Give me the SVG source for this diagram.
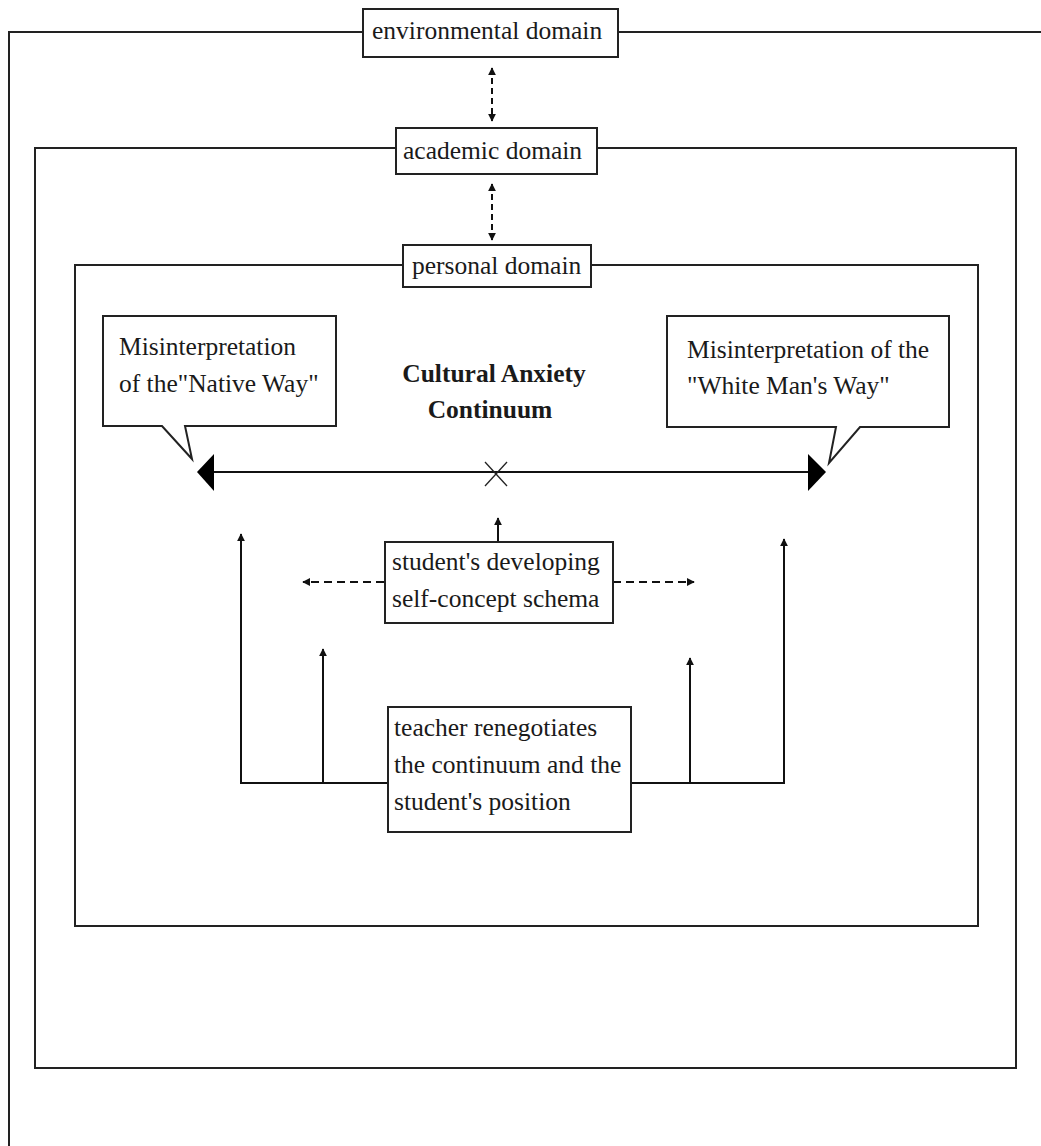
<svg xmlns="http://www.w3.org/2000/svg" width="1041" height="1146" viewBox="0 0 1041 1146">
<defs>
<style>
.t{font-family:"Liberation Serif","Times New Roman",serif;font-size:25.5px;fill:#1a1a1a}
.b{font-weight:bold}
.fr{fill:none;stroke:#222;stroke-width:2}
.box{fill:#fff;stroke:#222;stroke-width:2}
.ln{fill:none;stroke:#111;stroke-width:2}
.ds{fill:none;stroke:#111;stroke-width:2;stroke-dasharray:6 4}
.dh{fill:none;stroke:#111;stroke-width:2;stroke-dasharray:8 5}
.x{stroke:#222;stroke-width:1.3}
</style>
<marker id="ah" viewBox="0 0 10 10" markerUnits="userSpaceOnUse" markerWidth="8" markerHeight="12" refX="9" refY="5" orient="auto-start-reverse">
<path d="M0,0 L10,5 L0,10 z" fill="#111"/>
</marker>
</defs>

<g id="frames">
<path class="fr" d="M363,32 H9 V1146 M618,32 H1041"/>
<path class="fr" d="M396,148 H35 V1068 H1016 V148 H597"/>
<path class="fr" d="M403,265 H75 V926 H978 V265 H591"/>
</g>

<g id="connectors">
<line class="ds" x1="492" y1="68" x2="492" y2="121" marker-start="url(#ah)" marker-end="url(#ah)"/>
<line class="ds" x1="492" y1="184" x2="492" y2="240" marker-start="url(#ah)" marker-end="url(#ah)"/>
<line class="ln" x1="212" y1="472" x2="810" y2="472"/>
<path d="M197,472 L214,454 L214,491 Z" fill="#000"/>
<path d="M826,472 L808,454 L808,491 Z" fill="#000"/>
<line class="x" x1="485" y1="462" x2="507" y2="486"/>
<line class="x" x1="507" y1="462" x2="485" y2="486"/>
<line class="ln" x1="498" y1="542" x2="498" y2="518" marker-end="url(#ah)"/>
<line class="dh" x1="384" y1="582" x2="303" y2="582" marker-end="url(#ah)"/>
<line class="dh" x1="613" y1="582" x2="694" y2="582" marker-end="url(#ah)"/>
<path class="ln" d="M388,783 H241 V534" marker-end="url(#ah)"/>
<line class="ln" x1="323" y1="783" x2="323" y2="649" marker-end="url(#ah)"/>
<path class="ln" d="M631,783 H784 V539" marker-end="url(#ah)"/>
<line class="ln" x1="690" y1="783" x2="690" y2="658" marker-end="url(#ah)"/>
</g>

<g id="environmental">
<rect class="box" x="363" y="9" width="255" height="48"/>
<text class="t" x="372" y="39">environmental domain</text>
</g>

<g id="academic">
<rect class="box" x="396" y="128" width="201" height="46"/>
<text class="t" x="403" y="159">academic domain</text>
</g>

<g id="personal">
<rect class="box" x="403" y="245" width="188" height="42"/>
<text class="t" x="412" y="274">personal domain</text>
</g>

<g id="native-callout">
<path class="box" d="M103,316 H336 V426 H185 L192,459 L162,426 H103 Z"/>
<text class="t" x="119" y="355">Misinterpretation</text>
<text class="t" x="119" y="392">of the"Native Way"</text>
</g>

<g id="whiteman-callout">
<path class="box" d="M667,316 H949 V427 H860 L829,463 L836,427 H667 Z"/>
<text class="t" x="687" y="358">Misinterpretation of the</text>
<text class="t" x="687" y="394">"White Man's Way"</text>
</g>

<g id="continuum-title">
<text class="t b" x="494" y="382" text-anchor="middle">Cultural Anxiety</text>
<text class="t b" x="490" y="418" text-anchor="middle">Continuum</text>
</g>

<g id="student">
<rect class="box" x="385" y="542" width="228" height="81"/>
<text class="t" x="392" y="570">student's developing</text>
<text class="t" x="392" y="607">self-concept schema</text>
</g>

<g id="teacher">
<rect class="box" x="388" y="707" width="243" height="125"/>
<text class="t" x="394" y="736">teacher renegotiates</text>
<text class="t" x="394" y="773">the continuum and the</text>
<text class="t" x="394" y="810">student's position</text>
</g>
</svg>
